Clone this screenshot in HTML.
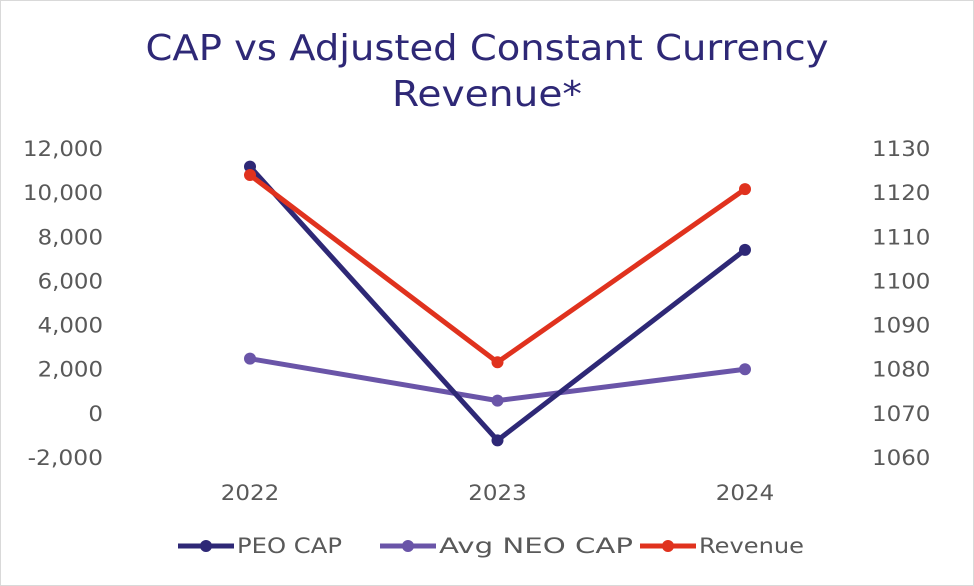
<!DOCTYPE html>
<html><head><meta charset="utf-8"><style>
html,body{margin:0;padding:0;background:#fff;}
svg{display:block;font-family:"DejaVu Sans","Liberation Sans",sans-serif;}
</style></head><body>
<svg id="chart" width="974" height="586" viewBox="0 0 974 586">
<rect x="0.5" y="0.5" width="973" height="585" fill="#fff" stroke="#d9d9d9"/>
<text x="487" y="60" text-anchor="middle" font-size="36" textLength="683" lengthAdjust="spacingAndGlyphs" fill="#2e2876">CAP vs Adjusted Constant Currency</text>
<text x="487" y="106" text-anchor="middle" font-size="36" textLength="190" lengthAdjust="spacingAndGlyphs" fill="#2e2876">Revenue*</text>
<g id="axes"></g>
<g id="series"></g>
<g id="legend"></g>
</svg>
<script>
const categories=["2022","2023","2024"];
const peoCap=[11200,-1200,7430];
const neoCap=[2500,600,2020];
const revenue=[1124.1,1081.7,1120.9];
const leftTicks=[-2000,0,2000,4000,6000,8000,10000,12000];
const rightTicks=[1060,1070,1080,1090,1100,1110,1120,1130];
const NS="http://www.w3.org/2000/svg";
const plotTop=149,plotBot=458;
const yL=v=>plotBot-(v+2000)/14000*(plotBot-plotTop);
const yR=v=>plotBot-(v-1060)/70*(plotBot-plotTop);
const xPos=i=>250+i*247.5;
function mk(tag,attrs,parent,txt){const e=document.createElementNS(NS,tag);for(const k in attrs)e.setAttribute(k,attrs[k]);if(txt!==undefined)e.textContent=txt;parent.appendChild(e);return e;}
function tw(s){let w=0;for(const ch of s){w+=ch===','?7:ch==='-'?10:14.6;}return w;}
const axes=document.getElementById('axes');
leftTicks.forEach(t=>{
 const s=t.toLocaleString('en-US');
 const e=mk('text',{x:103,y:yL(t)+7,'text-anchor':'end','font-size':21.5,fill:'#595959',textLength:tw(s),lengthAdjust:'spacingAndGlyphs'},axes,s);
 
 
});
rightTicks.forEach(t=>{
 const s=String(t);
 const e=mk('text',{x:872,y:yR(t)+7,'font-size':21.5,fill:'#595959',textLength:tw(s),lengthAdjust:'spacingAndGlyphs'},axes,s);
 
 
});
categories.forEach((c,i)=>{
 const e=mk('text',{x:xPos(i),y:500,'text-anchor':'middle','font-size':21.5,fill:'#595959',textLength:tw(c),lengthAdjust:'spacingAndGlyphs'},axes,c);
 
 
});
const ser=document.getElementById('series');
function draw(vals,fy,color,name){
 const g=mk('g',{},ser);
 
 
 const p=mk('polyline',{points:vals.map((v,i)=>xPos(i)+','+fy(v)).join(' '),fill:'none',stroke:color,'stroke-width':5,'stroke-linejoin':'round'},g);
 
 
 vals.forEach((v,i)=>{
  const c=mk('circle',{cx:xPos(i),cy:fy(v),r:6,fill:color},g);
  
  
 });
}
draw(neoCap,yL,'#6a55a8','avg-neo-cap');
draw(peoCap,yL,'#2e2876','peo-cap');
draw(revenue,yR,'#e0321e','revenue');
const leg=document.getElementById('legend');
[["PEO CAP","#2e2876",178,105],["Avg NEO CAP","#6a55a8",380,194],["Revenue","#e0321e",640,105]].forEach(([n,c,lx,w])=>{
 const g=mk('g',{},leg);
 
 
 mk('line',{x1:lx,y1:546,x2:lx+56,y2:546,stroke:c,'stroke-width':5},g);
 mk('circle',{cx:lx+28,cy:546,r:6,fill:c},g);
 mk('text',{x:lx+59,y:553,'font-size':21.5,fill:'#595959',textLength:w,lengthAdjust:'spacingAndGlyphs'},g,n);
});
</script>
</body></html>
